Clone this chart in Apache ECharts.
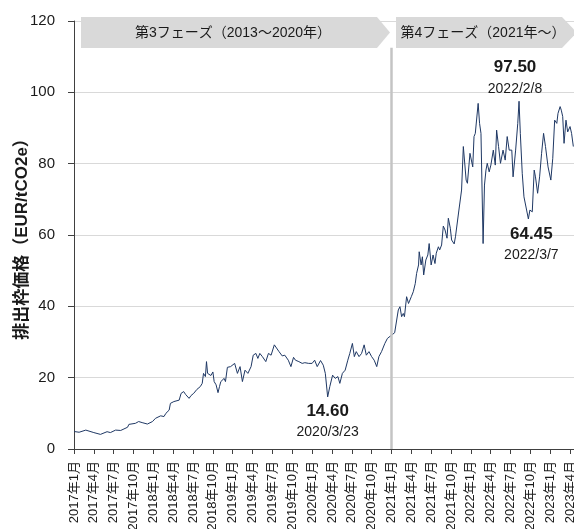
<!DOCTYPE html>
<html>
<head>
<meta charset="utf-8">
<script src="https://cdn.jsdelivr.net/npm/echarts@6/dist/echarts.min.js"></script>
<style>
html,body{margin:0;padding:0;background:#fff;}
#chart{width:574px;height:529px;}
</style>
</head>
<body>
<div id="chart"></div>
<script>
// ---- data ----
var dates = [
'2017-01-02','2017-01-25','2017-02-23','2017-04-01','2017-05-01','2017-06-01','2017-06-16','2017-07-10','2017-08-03','2017-09-04',
'2017-09-10','2017-10-10','2017-10-25','2017-11-10','2017-12-04','2017-12-28','2018-01-11','2018-01-19','2018-02-04','2018-02-18',
'2018-02-26','2018-03-13','2018-03-19','2018-04-04','2018-04-13','2018-04-28','2018-05-07','2018-05-19','2018-05-28','2018-06-13',
'2018-06-22','2018-07-04','2018-07-19','2018-08-04','2018-08-13','2018-08-19','2018-08-28','2018-09-02','2018-09-07','2018-09-16',
'2018-09-22','2018-10-01','2018-10-07','2018-10-16','2018-10-25','2018-11-01','2018-11-07','2018-11-13','2018-11-22','2018-11-28',
'2018-12-07','2018-12-22','2018-12-27','2019-01-10','2019-01-23','2019-02-04','2019-02-14','2019-02-25','2019-03-10','2019-03-25',
'2019-04-04','2019-04-16','2019-04-25','2019-05-04','2019-05-16','2019-06-01','2019-06-13','2019-06-25','2019-07-10','2019-07-19',
'2019-08-01','2019-08-16','2019-08-28','2019-09-13','2019-09-25','2019-10-07','2019-10-16','2019-11-01','2019-11-16','2019-11-28',
'2019-12-16','2020-01-01','2020-01-13','2020-01-25','2020-02-09','2020-02-21','2020-03-01','2020-03-12','2020-03-22','2020-04-04',
'2020-04-16','2020-04-28','2020-05-07','2020-05-19','2020-06-01','2020-06-13','2020-06-22','2020-07-04','2020-07-13','2020-07-22',
'2020-08-04','2020-08-16','2020-08-28','2020-09-07','2020-09-19','2020-10-01','2020-10-13','2020-10-25','2020-11-04','2020-11-16',
'2020-12-01','2020-12-13','2021-01-01','2021-01-16','2021-01-25','2021-02-02','2021-02-09','2021-02-16','2021-02-23','2021-02-28',
'2021-03-10','2021-03-19','2021-04-01','2021-04-10','2021-04-19','2021-04-25','2021-05-04','2021-05-07','2021-05-16','2021-05-22',
'2021-05-28','2021-06-07','2021-06-16','2021-06-22','2021-07-01','2021-07-10','2021-07-19','2021-07-25','2021-08-04','2021-08-10',
'2021-08-19','2021-08-27','2021-09-04','2021-09-13','2021-09-19','2021-09-28','2021-10-04','2021-10-13','2021-10-16','2021-10-22',
'2021-10-30','2021-11-07','2021-11-19','2021-11-27','2021-12-10','2021-12-16','2021-12-28','2022-01-10','2022-01-16','2022-01-22',
'2022-02-04','2022-02-10','2022-02-16','2022-02-25','2022-03-03','2022-03-10','2022-03-16','2022-03-25','2022-04-02','2022-04-13',
'2022-04-22','2022-04-28','2022-05-07','2022-05-16','2022-05-28','2022-06-07','2022-06-16','2022-06-25','2022-07-07','2022-07-13',
'2022-07-25','2022-08-04','2022-08-10','2022-08-16','2022-08-25','2022-09-02','2022-09-10','2022-09-14','2022-09-22','2022-09-29',
'2022-10-10','2022-10-19','2022-10-25','2022-11-04','2022-11-13','2022-11-22','2022-12-01','2022-12-10','2022-12-22','2023-01-04',
'2023-01-13','2023-01-22','2023-02-01','2023-02-06','2023-02-15','2023-02-20','2023-02-26','2023-03-04','2023-03-13','2023-03-21',
'2023-04-01','2023-04-08','2023-04-16'
];
var prices = [
4.9,4.7,5.3,4.6,4.1,4.85,4.6,5.3,5.2,6.1,
6.9,7.2,7.7,7.4,7.0,7.7,8.6,9.1,9.3,9.1,
10.0,10.9,12.8,13.3,12.8,13.7,15.6,16.1,15.3,14.2,
15.0,15.6,16.7,17.5,18.4,21.2,20.3,24.5,21.2,21.6,
20.6,21.6,18.9,18.0,15.8,17.5,18.9,18.4,19.8,18.9,
22.9,23.1,22.6,24.0,21.2,23.1,18.9,22.1,21.2,23.1,
26.3,26.8,25.4,26.8,25.9,24.5,26.8,26.3,29.2,28.7,
27.3,26.1,26.3,24.9,23.1,25.7,24.9,24.5,24.0,24.2,
24.0,24.0,24.9,23.1,24.8,23.5,21.2,14.6,17.5,20.7,
19.8,20.3,18.4,21.2,22.1,24.9,26.8,29.6,25.9,27.3,
25.9,26.8,29.2,26.3,27.3,25.9,24.9,23.1,25.9,27.3,
29.6,31.0,31.9,32.6,32.6,39.0,39.9,37.1,38.0,37.1,
42.7,40.8,42.7,44.1,46.4,49.2,51.6,55.3,51.6,53.9,
48.8,53.0,54.4,57.6,51.6,54.4,52.0,54.9,56.7,55.8,
57.2,62.5,61.4,59.1,64.7,61.9,58.6,59.1,57.5,59.5,
59.5,67.0,72.6,84.8,75.4,74.5,82.9,79.1,87.6,88.5,
96.9,91.3,88.5,57.6,74.0,78.2,80.1,77.7,79.6,83.8,
79.6,89.4,84.8,80.1,83.8,81.0,87.6,83.8,83.8,76.3,
83.8,91.3,97.5,88.5,77.3,70.7,71.2,67.0,64.5,67.0,
66.5,78.2,76.3,71.7,76.3,82.9,88.5,84.8,79.1,75.4,
81.5,92.2,91.3,94.1,96.0,95.0,93.2,85.7,92.2,88.9,
90.4,88.5,84.8
];
var xTickLabels = [
'2017年1月','2017年4月','2017年7月','2017年10月','2018年1月','2018年4月','2018年7月','2018年10月',
'2019年1月','2019年4月','2019年7月','2019年10月','2020年1月','2020年4月','2020年7月','2020年10月',
'2021年1月','2021年4月','2021年7月','2021年10月','2022年1月','2022年4月','2022年7月','2022年10月',
'2023年1月','2023年4月'
];
var yAxisTitle = '排出枠価格（EUR/tCO2e）';
var phaseLabels = ['第3フェーズ（2013～2020年）', '第4フェーズ（2021年～）'];
var phaseBoundaryDate = '2021-01-01';
var annotValues = ['97.50', '64.45', '14.60'];
var annotDates = ['2022/2/8', '2022/3/7', '2020/3/23'];
var annotAnchorDates = ['2022-08-10', '2022-09-22', '2020-03-12'];

// ---- helpers ----
function monthIndex(s) {
  var p = s.split('-').map(Number);
  var dim = new Date(p[0], p[1], 0).getDate();
  return (p[0] - 2017) * 12 + (p[1] - 1) + (p[2] - 1) / dim;
}
var seriesData = dates.map(function (d, i) { return [monthIndex(d), prices[i]]; });

var FONT = '"Liberation Sans", Arial, "Noto Sans CJK JP", sans-serif';
var annotOffsets = [[-4, -23], [3, 26], [0, 25]];
var markPoints = annotValues.map(function (v, i) {
  var idx = dates.indexOf(annotAnchorDates[i]);
  return {
    coord: seriesData[idx],
    symbol: 'circle', symbolSize: 1,
    itemStyle: { color: 'rgba(0,0,0,0)' },
    label: {
      show: true, position: 'inside', offset: annotOffsets[i],
      formatter: '{v|' + v + '}\n{d|' + annotDates[i] + '}'
    }
  };
});

var chart = echarts.init(document.getElementById('chart'), null, { renderer: 'canvas' });
chart.setOption({
  animation: false,
  backgroundColor: '#ffffff',
  grid: { left: 74, right: 0, top: 21, bottom: 80, containLabel: false, outerBoundsMode: 'none' },
  xAxis: {
    type: 'value', min: 0, max: 75.6, interval: 3,
    axisLine: { show: true, onZero: false, lineStyle: { color: '#404040', width: 1 } },
    axisTick: { show: true, length: 5, lineStyle: { color: '#404040' } },
    splitLine: { show: false },
    axisLabel: {
      rotate: 90, margin: 12, fontSize: 13, color: '#1a1a1a', fontFamily: FONT,
      showMaxLabel: false,
      formatter: function (v) { return xTickLabels[Math.round(v / 3)] || ''; }
    }
  },
  yAxis: {
    type: 'value', min: 0, max: 120, interval: 20,
    name: yAxisTitle, nameLocation: 'middle', nameGap: 43, nameMoveOverlap: false,
    nameTextStyle: { fontSize: 17, fontWeight: 'bold', color: '#1a1a1a', fontFamily: FONT },
    axisLine: { show: true, lineStyle: { color: '#404040', width: 1 } },
    axisTick: { show: true, length: 6, lineStyle: { color: '#404040' } },
    splitLine: { show: true, lineStyle: { color: '#d9d9d9', width: 1 } },
    axisLabel: { fontSize: 15, color: '#1a1a1a', margin: 19, fontFamily: FONT }
  },
  series: [{
    type: 'line',
    data: seriesData,
    showSymbol: false,
    lineStyle: { color: '#1f3864', width: 1 },
    itemStyle: { color: '#1f3864' },
    markLine: {
      silent: true, symbol: 'none', animation: false,
      label: { show: false },
      lineStyle: { color: '#c4c4c4', width: 2.5, type: 'solid' },
      data: [[{ coord: [monthIndex(phaseBoundaryDate), 0] }, { coord: [monthIndex(phaseBoundaryDate), 112.5] }]]
    },
    markPoint: {
      silent: true, animation: false,
      label: {
        color: '#1a1a1a',
        rich: {
          v: { fontSize: 17, fontWeight: 'bold', fontFamily: FONT, lineHeight: 21, color: '#1a1a1a' },
          d: { fontSize: 14, fontFamily: FONT, lineHeight: 21, color: '#1a1a1a' }
        }
      },
      data: markPoints
    }
  }],
  graphic: [
    { type: 'polygon', shape: { points: [[81, 17], [377, 17], [390, 32.5], [377, 48], [81, 48]] }, style: { fill: '#d9d9d9' }, z: 10 },
    { type: 'polygon', shape: { points: [[396, 17], [562, 17], [577, 32.5], [562, 48], [396, 48]] }, style: { fill: '#d9d9d9' }, z: 10 },
    { type: 'text', x: 233, y: 33, style: { text: phaseLabels[0], fontSize: 14, fontFamily: FONT, fill: '#1a1a1a', align: 'center', verticalAlign: 'middle' }, z: 11 },
    { type: 'text', x: 483, y: 33, style: { text: phaseLabels[1], fontSize: 14, fontFamily: FONT, fill: '#1a1a1a', align: 'center', verticalAlign: 'middle' }, z: 11 }
  ]
});
</script>
</body>
</html>
